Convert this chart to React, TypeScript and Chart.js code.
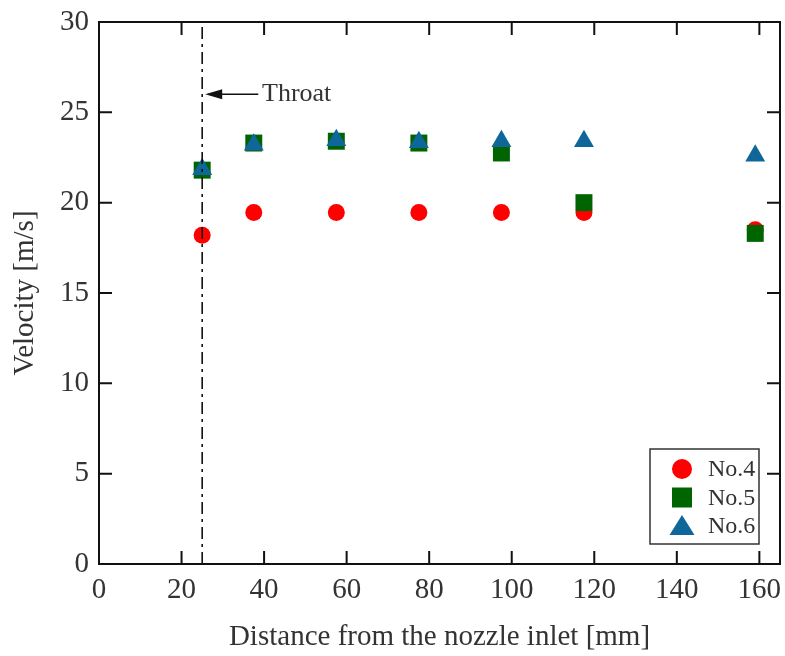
import React, { useEffect, useRef } from "react";
import { Chart, registerables } from "chart.js";

Chart.register(...registerables);

const positions = [25, 37.5, 57.5, 77.5, 97.5, 117.5, 159];
const no4 = [18.2, 19.45, 19.45, 19.45, 19.45, 19.45, 18.5];
const no5 = [21.8, 23.3, 23.4, 23.3, 22.75, 20.0, 18.3];
const no6 = [21.85, 23.2, 23.45, 23.35, 23.4, 23.4, 22.6];
const xTicks = [0, 20, 40, 60, 80, 100, 120, 140, 160];
const yTicks = [0, 5, 10, 15, 20, 25, 30];
const throatX = 25;
const throatLabel = "Throat";
const throatArrowY = 26;

const FONT = "Liberation Serif";

const toXY = (vals: number[]) => vals.map((v, i) => ({ x: positions[i], y: v }));

const framePlugin = {
  id: "framePlugin",
  afterDatasetsDraw(chart: any) {
    const { ctx, chartArea, scales } = chart;
    const { left, right, top, bottom } = chartArea;
    const xs = scales.x;
    const ys = scales.y;
    ctx.save();
    // throat dash-dot line
    const tx = xs.getPixelForValue(throatX);
    ctx.strokeStyle = "#111";
    ctx.lineWidth = 1.6;
    ctx.setLineDash([12, 5, 3, 5]);
    ctx.beginPath();
    ctx.moveTo(tx, bottom);
    ctx.lineTo(tx, top);
    ctx.stroke();
    ctx.setLineDash([]);
    // arrow
    const ay = ys.getPixelForValue(throatArrowY);
    const ax0 = tx + 3;
    const ax1 = xs.getPixelForValue(38.6);
    ctx.lineWidth = 1.5;
    ctx.beginPath();
    ctx.moveTo(ax0 + 10, ay);
    ctx.lineTo(ax1, ay);
    ctx.stroke();
    ctx.fillStyle = "#111";
    ctx.beginPath();
    ctx.moveTo(ax0, ay);
    ctx.lineTo(ax0 + 17, ay - 5);
    ctx.lineTo(ax0 + 17, ay + 5);
    ctx.closePath();
    ctx.fill();
    ctx.font = `26px "${FONT}"`;
    ctx.fillStyle = "#333";
    ctx.textAlign = "left";
    ctx.textBaseline = "middle";
    ctx.fillText(throatLabel, xs.getPixelForValue(39.5), ay);

    // frame
    ctx.strokeStyle = "#111";
    ctx.lineWidth = 2;
    ctx.strokeRect(left, top, right - left, bottom - top);
    // inward ticks
    const tl = 13;
    ctx.beginPath();
    xTicks.forEach((v) => {
      const px = xs.getPixelForValue(v);
      ctx.moveTo(px, bottom);
      ctx.lineTo(px, bottom - tl);
      ctx.moveTo(px, top);
      ctx.lineTo(px, top + tl);
    });
    yTicks.forEach((v) => {
      const py = ys.getPixelForValue(v);
      ctx.moveTo(left, py);
      ctx.lineTo(left + tl, py);
      ctx.moveTo(right, py);
      ctx.lineTo(right - tl, py);
    });
    ctx.stroke();

    // legend
    const bw = 109;
    const bh = 95;
    const bx = right - 21 - bw;
    const by = bottom - 20 - bh;
    ctx.fillStyle = "#fff";
    ctx.fillRect(bx, by, bw, bh);
    ctx.strokeStyle = "#333";
    ctx.lineWidth = 1.5;
    ctx.strokeRect(bx, by, bw, bh);
    [0, 1, 2].forEach((di, row) => {
      const ds = chart.data.datasets[di];
      const cy = by + 20 + row * 28.5;
      const cx = bx + 32;
      ctx.fillStyle = ds.backgroundColor;
      ctx.beginPath();
      if (ds.pointStyle === "circle") {
        ctx.arc(cx, cy, 10, 0, Math.PI * 2);
      } else if (ds.pointStyle === "rect") {
        ctx.rect(cx - 10, cy - 10, 20, 20);
      } else {
        ctx.moveTo(cx, cy - 11);
        ctx.lineTo(cx + 12.5, cy + 9);
        ctx.lineTo(cx - 12.5, cy + 9);
        ctx.closePath();
      }
      ctx.fill();
      ctx.fillStyle = "#333";
      ctx.font = `24px "${FONT}"`;
      ctx.textAlign = "left";
      ctx.textBaseline = "middle";
      ctx.fillText(ds.label, bx + 58, cy + 1);
    });
    ctx.restore();
  },
};

export default function App() {
  const ref = useRef<HTMLCanvasElement>(null);
  useEffect(() => {
    if (!ref.current) return;
    const chart = new Chart(ref.current, {
      type: "scatter",
      data: {
        datasets: [
          {
            label: "No.4",
            data: toXY(no4),
            pointStyle: "circle",
            pointRadius: 8.5,
            backgroundColor: "#ff0000",
            borderColor: "#ff0000",
            borderWidth: 0,
            order: 3,
          },
          {
            label: "No.5",
            data: toXY(no5),
            pointStyle: "rect",
            pointRadius: 12,
            backgroundColor: "#006400",
            borderColor: "#006400",
            borderWidth: 0,
            order: 2,
          },
          {
            label: "No.6",
            data: toXY(no6),
            pointStyle: "triangle",
            pointRadius: 11.5,
            backgroundColor: "#0f6699",
            borderColor: "#0f6699",
            borderWidth: 0,
            order: 1,
          },
        ] as any,
      },
      options: {
        animation: false,
        responsive: false,
        maintainAspectRatio: false,
        layout: { autoPadding: false, padding: { top: 22, right: 5, left: 0, bottom: 0 } },
        plugins: { legend: { display: false }, tooltip: { enabled: false } },
        scales: {
          x: {
            type: "linear",
            min: 0,
            max: 165,
            afterBuildTicks: (s: any) => {
              s.ticks = xTicks.map((v) => ({ value: v }));
            },
            afterFit: (s: any) => {
              s.height = 92;
              s.paddingLeft = 0;
              s.paddingRight = 0;
            },
            grid: { display: false, drawTicks: false },
            border: { display: false },
            ticks: {
              padding: 9,
              color: "#333",
              maxRotation: 0,
              font: { family: FONT, size: 29 },
            },
            title: {
              display: true,
              text: "Distance from the nozzle inlet [mm]",
              color: "#333",
              font: { family: FONT, size: 29 },
              padding: { top: 0, bottom: 1 },
            },
          },
          y: {
            type: "linear",
            min: 0,
            max: 30,
            afterBuildTicks: (s: any) => {
              s.ticks = yTicks.map((v) => ({ value: v }));
            },
            afterFit: (s: any) => {
              s.width = 99;
              s.paddingTop = 0;
              s.paddingBottom = 0;
            },
            grid: { display: false, drawTicks: false },
            border: { display: false },
            ticks: {
              padding: 10,
              color: "#333",
              font: { family: FONT, size: 29 },
            },
            title: {
              display: true,
              text: "Velocity [m/s]",
              color: "#333",
              font: { family: FONT, size: 29 },
              padding: { top: 8, bottom: 0 },
            },
          },
        },
      },
      plugins: [framePlugin],
    });
    return () => chart.destroy();
  }, []);
  return (
    <div style={{ position: "fixed", left: 0, top: 0, width: 785, height: 656, background: "#fff" }}>
      <canvas ref={ref} width={785} height={656} style={{ width: 785, height: 656 }} />
    </div>
  );
}
